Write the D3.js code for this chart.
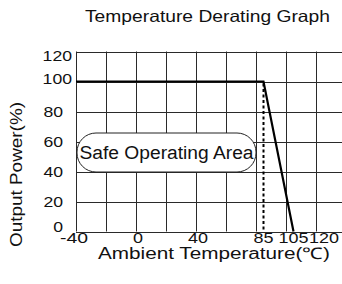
<!DOCTYPE html>
<html><head><meta charset="utf-8">
<script src="https://cdn.jsdelivr.net/npm/d3@7"></script>
<style>html,body{margin:0;padding:0;background:#fff;}svg{display:block;font-family:"Liberation Sans",Arial,sans-serif;}</style>
</head><body><svg id="c" width="342" height="284"></svg>
<script>
const xTicks = [-40, 0, 40, 85, 105, 120];
const xGrid = [-40, -20, 0, 20, 40, 60, 80, 100, 120];
const yTicks = [0, 20, 40, 60, 80, 100, 120];
const curveTemp = [-40, 85, 105];
const curvePower = [100, 100, 0];
const limitTemp = 85;
const title = "Temperature Derating Graph";
const xTitle = "Ambient Temperature(\u2103)";
const yTitle = "Output Power(%)";
const areaLabel = "Safe Operating Area";

const svg = d3.select("#c");
const x = d3.scaleLinear().domain([-40, 140]).range([76, 346]);
const y = d3.scaleLinear().domain([0, 120]).range([231.5, 51.5]);
const grid = "#2a2a2a";

// grid
svg.append("g").selectAll("line").data(yTicks).join("line")
  .attr("x1", x(-40)).attr("x2", 342).attr("y1", d => Math.round(y(d)) + 0.5).attr("y2", d => Math.round(y(d)) + 0.5)
  .attr("stroke", grid).attr("stroke-width", 1);
svg.append("g").selectAll("line").data(xGrid).join("line")
  .attr("x1", d => x(d) + 0.5).attr("x2", d => x(d) + 0.5).attr("y1", y(120)).attr("y2", y(0))
  .attr("stroke", grid).attr("stroke-width", 1);

// safe operating area label box
const bx0 = 77, bx1 = 256, by0 = 133, by1 = 172;
svg.append("rect").attr("x", bx0).attr("y", by0).attr("width", bx1 - bx0).attr("height", by1 - by0)
  .attr("rx", 19).attr("ry", 19).attr("fill", "#fff").attr("stroke", "#222").attr("stroke-width", 1);
svg.append("text").attr("x", (bx0 + bx1) / 2).attr("y", 159).attr("text-anchor", "middle")
  .attr("font-size", 18).attr("textLength", 174).attr("lengthAdjust", "spacingAndGlyphs").attr("fill", "#111").text(areaLabel);

// derating curve
const line = d3.line().x((d, i) => x(curveTemp[i])).y(d => y(d));
svg.append("path").attr("d", line(curvePower)).attr("fill", "none").attr("stroke", "#000").attr("stroke-width", 2.2);

// dotted limit
svg.append("line").attr("x1", x(limitTemp)).attr("x2", x(limitTemp)).attr("y1", y(100) + 2).attr("y2", y(0))
  .attr("stroke", "#000").attr("stroke-width", 2).attr("stroke-dasharray", "3,2.5");

// x tick labels
const xOff = {120: 8};
svg.append("g").selectAll("text").data(xTicks).join("text")
  .attr("x", d => x(d) + (xOff[d] || 0) - (d === -40 ? 2 : 0) + (d === 0 || d === 40 ? 2 : 0)).attr("y", 243)
  .attr("text-anchor", "middle").attr("font-size", 15).attr("fill", "#111")
  .attr("textLength", d => String(d).length * 10 - (d < 0 ? 2 : 0)).attr("lengthAdjust", "spacingAndGlyphs")
  .text(d => d);

// y tick labels
svg.append("g").selectAll("text").data(yTicks).join("text")
  .attr("x", d => d >= 100 ? 72 : 63).attr("y", d => d === 120 ? 61 : d === 0 ? 232 : y(d) + 5.5 - (d === 100 ? 3.5 : 0))
  .attr("text-anchor", "end").attr("font-size", 15).attr("fill", "#111")
  .attr("textLength", d => String(d).length * 9.8).attr("lengthAdjust", "spacingAndGlyphs")
  .text(d => d);

// titles
svg.append("text").attr("x", 207.5).attr("y", 22).attr("text-anchor", "middle").attr("font-size", 16.5)
  .attr("textLength", 245).attr("lengthAdjust", "spacingAndGlyphs").attr("fill", "#111").text(title);
svg.append("text").attr("x", 214).attr("y", 259).attr("text-anchor", "middle").attr("font-size", 16)
  .attr("textLength", 232).attr("lengthAdjust", "spacingAndGlyphs").attr("fill", "#111").text(xTitle);
svg.append("text").attr("transform", "translate(21.5,174.5) rotate(-90)").attr("text-anchor", "middle")
  .attr("font-size", 16).attr("textLength", 145).attr("lengthAdjust", "spacingAndGlyphs").attr("fill", "#111").text(yTitle);
</script></body></html>
